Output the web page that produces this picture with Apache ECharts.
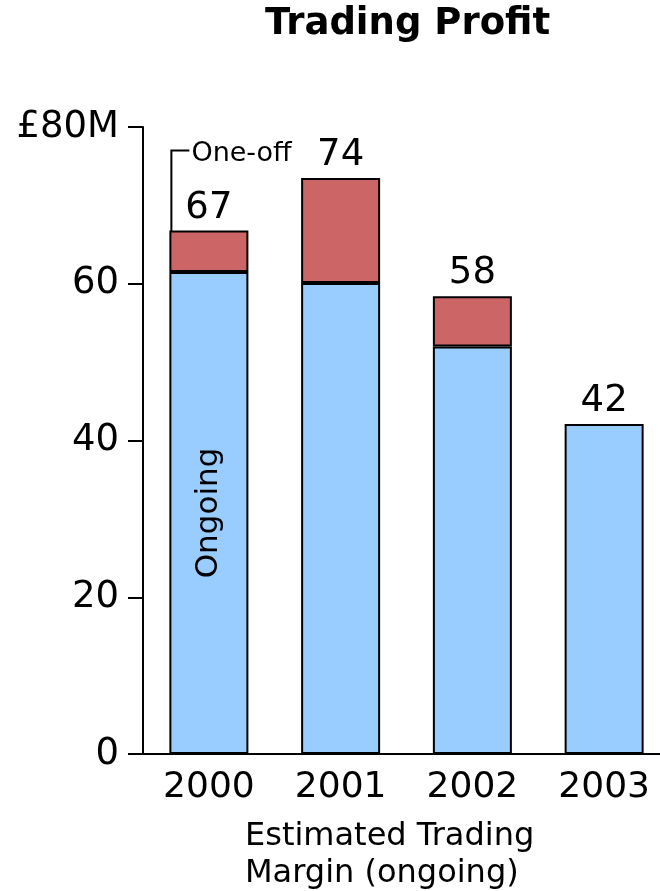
<!DOCTYPE html>
<html>
<head>
<meta charset="utf-8">
<script src="https://cdn.jsdelivr.net/npm/echarts@6/dist/echarts.min.js"></script>
<style>html,body{margin:0;padding:0;background:#fff}#c{width:660px;height:891px}</style>
</head>
<body>
<div id="c"></div>
<script>
const categories = ['2000', '2001', '2002', '2003'];
const ongoing = [61.5, 60.1, 52.0, 42.1];
const oneOff = [5.3, 13.4, 6.4, 0];
const totalLabels = ['67', '74', '58', '42'];
const yTicks = [0, 20, 40, 60, 80];

const FONT = 'DejaVu Sans';
const chart = echarts.init(document.getElementById('c'), null, {renderer: 'canvas'});

const option = {
  animation: false,
  backgroundColor: '#fff',
  title: {
    text: 'Trading Profit',
    left: 260, top: 1,
    textStyle: {fontFamily: FONT, fontWeight: 'bold', fontSize: 37, color: '#000'}
  },
  grid: {left: 143, top: 127, width: 527, height: 627, containLabel: false, outerBoundsMode: 'none'},
  xAxis: {
    type: 'category',
    data: categories,
    axisLine: {show: true, lineStyle: {color: '#000', width: 2}},
    axisTick: {show: false},
    axisLabel: {fontFamily: FONT, fontSize: 36, color: '#000', margin: 16}
  },
  yAxis: {
    type: 'value',
    min: 0, max: 80, interval: 20,
    axisLine: {show: true, lineStyle: {color: '#000', width: 2}},
    axisTick: {show: true, inside: false, length: 15, lineStyle: {color: '#000', width: 2}},
    splitLine: {show: false},
    axisLabel: {
      fontFamily: FONT, fontSize: 37, color: '#000', margin: 24, padding: [5, 0, 0, 0],
      formatter: v => (v === yTicks[yTicks.length - 1] ? '£' + v + 'M' : String(v))
    }
  },
  series: [
    {
      type: 'bar', stack: 'p', barWidth: 79,
      data: ongoing.map((v, i) => i === 0 ? {
        value: v,
        label: {show: true, position: 'inside', rotate: 90, formatter: 'Ongoing',
          fontFamily: FONT, fontSize: 31, color: '#000'}
      } : v),
      itemStyle: {color: '#99ccff', borderColor: '#000', borderWidth: 2}
    },
    {
      type: 'bar', stack: 'p', barWidth: 79,
      data: oneOff.map((v, i) => ({value: v, itemStyle: v === 0 ? {borderWidth: 0} : undefined})),
      itemStyle: {color: '#cc6666', borderColor: '#000', borderWidth: 2},
      label: {
        show: true, position: 'top', distance: 4,
        fontFamily: FONT, fontSize: 37, color: '#000',
        formatter: p => totalLabels[p.dataIndex]
      }
    }
  ],
  graphic: []
};
chart.setOption(option);

// annotation "One-off" leader line, positioned via axis scales
const annTop = 77, annBottom = 66;
const cx = chart.convertToPixel({xAxisIndex: 0}, categories[0]);
const lx = cx - 79 / 2 + 2;
const yTop = chart.convertToPixel({yAxisIndex: 0}, annTop);
const yBot = chart.convertToPixel({yAxisIndex: 0}, annBottom);
chart.setOption({
  graphic: [
    {type: 'polyline', shape: {points: [[lx, yBot], [lx, yTop], [lx + 18, yTop]]},
     style: {stroke: '#000', lineWidth: 2, fill: null}},
    {type: 'text', x: lx + 20, y: yTop + 3, style: {text: 'One-off', fontFamily: FONT, fontSize: 27,
     fill: '#000', verticalAlign: 'middle', align: 'left'}},
    {type: 'text', x: 245, y: 818, style: {text: 'Estimated Trading\nMargin (ongoing)', fontFamily: FONT,
     fontSize: 32, lineHeight: 37, fill: '#000', verticalAlign: 'top', align: 'left'}}
  ]
});
</script>
</body>
</html>
